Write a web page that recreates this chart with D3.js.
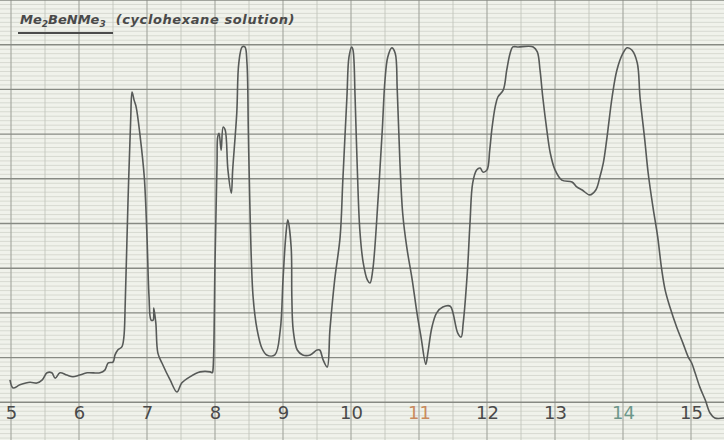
<!DOCTYPE html>
<html><head><meta charset="utf-8">
<script src="https://cdn.jsdelivr.net/npm/d3@7"></script>
<style>
html,body{margin:0;padding:0;background:#f0f2eb;}
svg{display:block;}
</style></head>
<body>
<svg id="chart" width="724" height="440"></svg>
<script>
// wavelength (microns) and trace height (chart units, 0-100)
const wavelength = [4.985,5.03,5.13,5.28,5.38,5.46,5.53,5.60,5.65,5.72,5.82,5.91,6.01,6.12,6.31,6.38,6.43,6.50,6.53,6.57,6.63,6.66,6.68,6.72,6.76,6.78,6.81,6.84,6.90,6.96,7.00,7.03,7.06,7.09,7.10,7.13,7.16,7.22,7.34,7.44,7.51,7.63,7.78,7.93,7.96,7.97,8.00,8.03,8.04,8.06,8.09,8.12,8.15,8.19,8.24,8.26,8.32,8.35,8.40,8.44,8.47,8.49,8.51,8.56,8.62,8.69,8.76,8.88,8.96,9.00,9.04,9.07,9.12,9.13,9.15,9.21,9.29,9.40,9.50,9.54,9.59,9.65,9.69,9.76,9.84,9.88,9.94,9.97,10.01,10.03,10.06,10.09,10.13,10.18,10.24,10.28,10.32,10.40,10.46,10.50,10.54,10.60,10.65,10.68,10.72,10.76,10.82,10.90,10.97,11.03,11.10,11.13,11.19,11.26,11.35,11.46,11.50,11.57,11.62,11.65,11.71,11.75,11.79,11.85,11.90,11.94,12.00,12.04,12.07,12.12,12.16,12.24,12.29,12.34,12.38,12.46,12.68,12.74,12.78,12.82,12.88,12.93,13.00,13.10,13.25,13.32,13.40,13.51,13.60,13.66,13.71,13.76,13.84,13.91,14.00,14.06,14.13,14.21,14.25,14.32,14.37,14.44,14.51,14.57,14.62,14.69,14.79,14.88,14.96,15.01,15.06,15.13,15.21,15.28,15.35,15.49];
const trace = [15.0,13.2,13.9,14.5,14.3,15.0,16.6,16.6,15.4,16.6,16.1,15.7,16.1,16.6,16.6,17.2,18.8,19.0,20.6,21.7,22.4,24.6,32.2,54.6,73.2,79.4,77.6,76.1,69.4,60.4,47.0,33.6,28.4,28.4,31.1,27.7,21.0,18.8,15.0,12.3,14.3,15.7,16.8,16.8,16.6,17.2,41.2,63.5,69.4,70.2,66.4,71.6,70.9,62.0,56.8,62.0,74.7,85.9,89.5,89.5,85.9,70.9,55.9,33.6,26.2,22.1,20.6,20.6,26.2,37.4,47.0,50.8,44.7,33.6,26.2,21.7,20.6,20.6,21.7,21.7,19.5,17.9,26.2,37.4,47.0,59.7,78.3,87.2,89.5,88.8,78.3,63.5,48.5,41.2,37.4,36.7,39.6,55.9,70.9,82.1,87.2,89.3,88.1,79.9,63.5,52.3,44.7,37.4,30.0,24.6,18.5,21.0,26.8,30.0,31.3,31.5,30.0,25.5,24.6,27.7,38.9,50.1,59.1,62.0,62.4,61.5,62.0,66.4,70.9,76.1,78.3,79.9,84.3,88.1,89.5,89.5,89.5,88.4,84.3,78.3,70.9,65.8,62.0,59.7,59.3,58.2,57.5,56.4,57.5,60.4,63.5,68.7,78.3,84.3,88.1,89.3,88.8,85.9,78.3,68.7,61.3,53.7,47.0,39.6,35.1,31.3,26.8,23.3,20.1,18.8,16.6,13.4,10.5,7.6,6.5,6.5];
const tickLabels = ["5","6","7","8","9","10","11","12","13","14","15"];
const tickValues = [5,6,7,8,9,10,11,12,13,14,15];
const labelColors = {"11":"#c98a5e","14":"#6d978a"};
const titleMain = "Me";
const titleText = "(cyclohexane solution)";

const W = 724, H = 440;
const svg = d3.select("#chart");
const x = d3.scaleLinear().domain([5 - 11/68, 5 + 713/68]).range([0, W]);
const y = d3.scaleLinear().domain([0, 100]).range([447, 0]);

svg.append("rect").attr("width", W).attr("height", H).attr("fill", "#f0f2eb");

const g = svg.append("g");
// minor horizontal grid
g.selectAll("line.hmin").data(d3.range(0, 101, 1).filter(d => d % 10 !== 0))
  .join("line").attr("x1", 0).attr("x2", W)
  .attr("y1", d => y(d)).attr("y2", d => y(d))
  .attr("stroke", "#d0d3ca").attr("stroke-width", 0.8);
// half-unit vertical lines
g.selectAll("line.vhalf").data(d3.range(4.5, 16, 1))
  .join("line").attr("y1", 0).attr("y2", H)
  .attr("x1", d => x(d)).attr("x2", d => x(d))
  .attr("stroke", "#c2c5bc").attr("stroke-width", 0.9);
// integer vertical lines
g.selectAll("line.vmaj").data(d3.range(5, 16, 1))
  .join("line").attr("y1", 0).attr("y2", H)
  .attr("x1", d => x(d)).attr("x2", d => x(d))
  .attr("stroke", "#a2a59d").attr("stroke-width", 1.1);
// major horizontal lines
g.selectAll("line.hmaj").data(d3.range(0, 101, 10))
  .join("line").attr("x1", 0).attr("x2", W)
  .attr("y1", d => y(d)).attr("y2", d => y(d))
  .attr("stroke", "#878a83").attr("stroke-width", 1.4);

// trace
const pts = wavelength.map((w, i) => [w, trace[i]]);
svg.append("path").datum(pts)
  .attr("fill", "none").attr("stroke", "#575a58").attr("stroke-width", 1.6)
  .attr("stroke-linejoin", "round")
  .attr("d", d3.line().x(d => x(d[0])).y(d => y(d[1])).curve(d3.curveCatmullRom.alpha(0.5)));

// axis labels
const ax = svg.append("g").attr("transform", "translate(0,406)")
  .call(d3.axisBottom(x).tickValues(tickValues).tickSize(0).tickPadding(0)
    .tickFormat((d, i) => tickLabels[i]));
ax.select(".domain").remove();
ax.selectAll("text")
  .attr("font-family", "DejaVu Sans").attr("font-size", 18)
  .attr("fill", (d, i) => labelColors[tickLabels[i]] || "#4a4a4a")
  .attr("dy", "0.71em");

// title
const t = svg.append("text").attr("x", 20).attr("y", 24)
  .attr("font-family", "DejaVu Sans").attr("font-style", "italic")
  .attr("font-weight", "bold").attr("font-size", 13).attr("fill", "#4a4a4a");
t.append("tspan").text(titleMain);
t.append("tspan").attr("font-size", 9).attr("dy", 3).text("2");
t.append("tspan").attr("dy", -3).text("BeNMe");
t.append("tspan").attr("font-size", 9).attr("dy", 3).text("3");
t.append("tspan").attr("dy", -3).attr("dx", 10).attr("letter-spacing", 0.6).text(titleText);
svg.append("line").attr("x1", 18).attr("x2", 113).attr("y1", 33).attr("y2", 33)
  .attr("stroke", "#4a4a4a").attr("stroke-width", 2);
</script>
</body></html>
